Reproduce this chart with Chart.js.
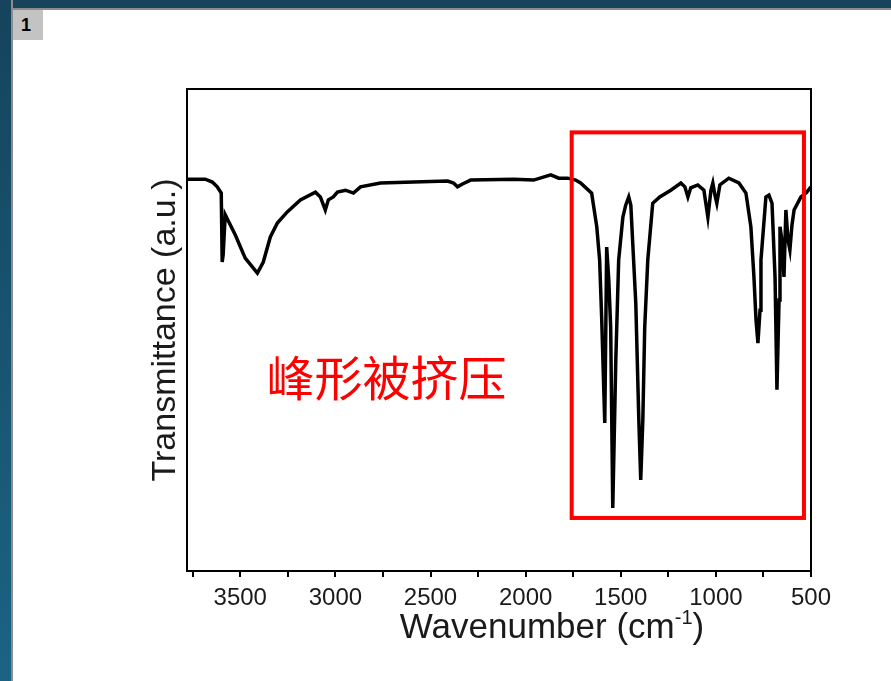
<!DOCTYPE html>
<html lang="en">
<head>
    <meta charset="UTF-8">
    <title>FTIR Spectrum</title>
    <script src="https://cdn.jsdelivr.net/npm/chart.js"></script>
    <style>
        html, body {
            margin: 0;
            padding: 0;
            background: #ffffff;
            width: 891px;
            height: 681px;
            overflow: hidden;
        }
        #topBar {
            position: absolute; left: 0; top: 0; width: 891px; height: 8px;
            background: #15445c;
            border-bottom: 2px solid #8c8c8c;
        }
        #leftBar {
            position: absolute; left: 0; top: 0; width: 11px; height: 681px;
            background: linear-gradient(#15445c, #1b6384);
            border-right: 2px solid #8c8c8c;
        }
        #panelNo {
            position: absolute; left: 13px; top: 10px; width: 30px; height: 30px;
            background: #c3c3c3;
            font: bold 18px "Liberation Sans", Arial, sans-serif;
            line-height: 30px;
            text-indent: 8px;
            color: #000;
        }
        #chart {
            position: absolute; left: 0; top: 0;
        }
    </style>
</head>
<body>
    <div id="topBar"></div>
    <div id="leftBar"></div>
    <div id="panelNo">1</div>
    <canvas id="chart" width="891" height="681"></canvas>

    <script>
        // spectrum (wavenumber in cm-1, transmittance in a.u.)
        const wavenumbers = [3779, 3684, 3647, 3621, 3600, 3595, 3590, 3579, 3526, 3474,
            3410, 3379, 3342, 3305, 3253, 3184, 3105, 3079, 3053, 3037,
            3011, 2989, 2947, 2905, 2868, 2763, 2589, 2410, 2379, 2358,
            2332, 2289, 2063, 1958, 1868, 1826, 1779, 1737, 1711, 1653,
            1626, 1611, 1600, 1584, 1574, 1563, 1553, 1542, 1526, 1511,
            1489, 1474, 1458, 1447, 1437, 1421, 1405, 1395, 1384, 1374,
            1358, 1332, 1295, 1237, 1184, 1163, 1147, 1132, 1095, 1063,
            1042, 1026, 1016, 1005, 995, 979, 932, 879, 842, 816,
            800, 789, 779, 768, 763, 737, 721, 705, 689, 679,
            668, 663, 653, 642, 632, 621, 611, 600, 589, 553,
            526, 500];
        const transmittance = [81.3, 81.3, 80.7, 79.7, 78.4, 64.1, 65.6, 73.9, 69.7, 64.9,
            61.8, 64.1, 69.3, 72.2, 74.5, 77.0, 78.6, 77.6, 74.9, 77.0,
            77.6, 78.6, 79.0, 78.4, 79.7, 80.5, 80.7, 80.9, 80.5, 79.7,
            80.3, 81.1, 81.3, 81.1, 82.2, 81.5, 81.5, 81.1, 80.5, 78.4,
            71.4, 64.5, 52.1, 30.7, 67.2, 60.4, 50.6, 13.1, 43.8, 64.5,
            73.4, 75.9, 77.6, 75.9, 68.0, 55.6, 31.3, 18.9, 31.3, 50.6,
            64.5, 76.3, 77.6, 79.0, 80.5, 79.7, 77.6, 79.5, 80.1, 79.0,
            73.4, 79.0, 80.5, 78.0, 76.3, 80.1, 81.5, 80.5, 78.4, 71.4,
            61.0, 52.1, 47.3, 54.1, 64.5, 77.6, 78.0, 76.3, 61.0, 37.6,
            56.2, 71.4, 68.7, 61.0, 74.9, 68.7, 66.6, 71.8, 74.9, 77.6,
            78.4, 79.7];
        const xTickLabels = [3500, 3000, 2500, 2000, 1500, 1000, 500];

        // highlighted region and note, in data units
        const boxFrom = 1758, boxTo = 537, boxTop = 91, boxBottom = 11;
        const noteText = '峰形被挤压';
        const noteX = 2732, noteY = 40;

        const sans = '"Liberation Sans", Arial, sans-serif';

        const extras = {
            id: 'extras',
            afterDraw(chart) {
                const ctx = chart.ctx;
                const a = chart.chartArea;
                const x = chart.scales.x, y = chart.scales.y;
                ctx.save();
                // frame
                ctx.strokeStyle = '#000';
                ctx.lineWidth = 2;
                ctx.strokeRect(a.left, a.top, a.right - a.left, a.bottom - a.top);
                // red box
                const x1 = x.getPixelForValue(boxFrom), x2 = x.getPixelForValue(boxTo);
                const y1 = y.getPixelForValue(boxTop), y2 = y.getPixelForValue(boxBottom);
                ctx.strokeStyle = '#ff0000';
                ctx.lineWidth = 4;
                ctx.strokeRect(x1, y1, x2 - x1, y2 - y1);
                // note
                ctx.fillStyle = '#ff0000';
                ctx.font = '48px "Noto Sans CJK SC", sans-serif';
                ctx.textAlign = 'center';
                ctx.textBaseline = 'middle';
                ctx.fillText(noteText, x.getPixelForValue(noteX), y.getPixelForValue(noteY));
                // x axis title with superscript
                ctx.fillStyle = '#1a1a1a';
                ctx.textBaseline = 'alphabetic';
                ctx.textAlign = 'left';
                const main = 'Wavenumber (cm', sup = '-1', end = ')';
                ctx.font = '35px ' + sans;
                const w1 = ctx.measureText(main).width, w3 = ctx.measureText(end).width;
                ctx.font = '20px ' + sans;
                const w2 = ctx.measureText(sup).width;
                let tx = 552 - (w1 + w2 + w3) / 2;
                const ty = 638;
                ctx.font = '35px ' + sans;
                ctx.fillText(main, tx, ty);
                ctx.font = '20px ' + sans;
                ctx.fillText(sup, tx + w1, ty - 14);
                ctx.font = '35px ' + sans;
                ctx.fillText(end, tx + w1 + w2, ty);
                ctx.restore();
            }
        };

        const points = wavenumbers.map((w, i) => ({x: w, y: transmittance[i]}));

        new Chart(document.getElementById('chart').getContext('2d'), {
            type: 'line',
            data: {
                datasets: [{
                    data: points,
                    borderColor: '#000',
                    borderWidth: 3.5,
                    pointRadius: 0,
                    tension: 0,
                    fill: false
                }]
            },
            options: {
                responsive: false,
                animation: false,
                events: [],
                layout: {padding: {left: 0, top: 89, right: 80, bottom: 0}},
                plugins: {legend: {display: false}, tooltip: {enabled: false}},
                scales: {
                    x: {
                        type: 'linear',
                        reverse: true,
                        min: 500,
                        max: 3780,
                        afterFit: s => { s.height = 110; },
                        afterBuildTicks: s => {
                            s.ticks = [];
                            for (let v = 500; v <= 3750; v += 250) s.ticks.push({value: v});
                        },
                        ticks: {
                            autoSkip: false,
                            maxRotation: 0,
                            padding: 7,
                            color: '#1a1a1a',
                            font: {family: sans, size: 24},
                            callback: v => xTickLabels.includes(v) ? String(v) : ''
                        },
                        grid: {
                            drawOnChartArea: false,
                            tickLength: 6,
                            color: '#000',
                            lineWidth: 2
                        },
                        border: {display: false}
                    },
                    y: {
                        min: 0,
                        max: 100,
                        afterFit: s => { s.width = 187; },
                        ticks: {display: false},
                        grid: {display: false},
                        border: {display: false},
                        title: {
                            display: true,
                            text: 'Transmittance (a.u.)',
                            color: '#1a1a1a',
                            font: {family: sans, size: 34},
                            padding: {top: 145, bottom: 0}
                        }
                    }
                }
            },
            plugins: [extras]
        });
    </script>
</body>
</html>
